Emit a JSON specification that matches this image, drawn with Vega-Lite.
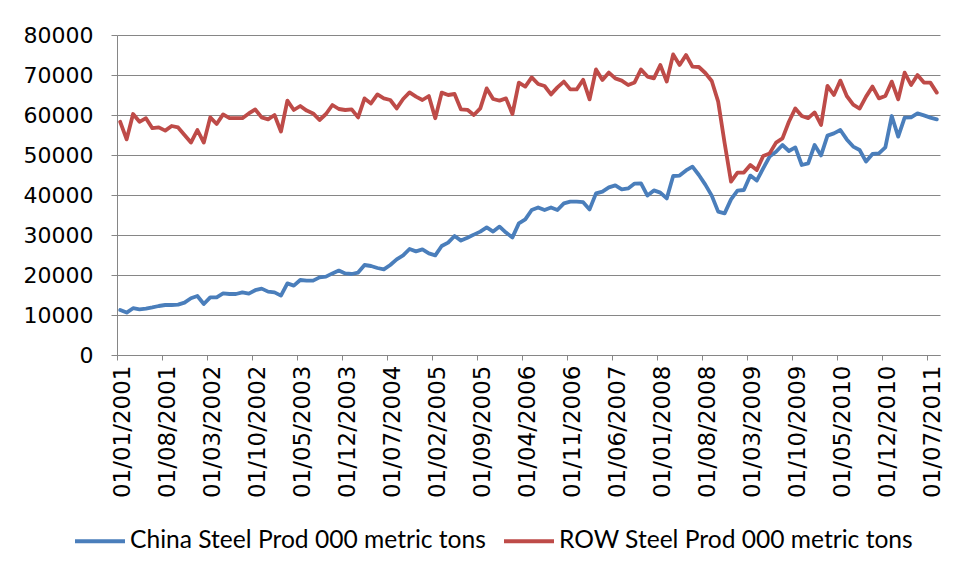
{
  "$schema": "https://vega.github.io/schema/vega-lite/v6.json",
  "width": 823,
  "height": 320,
  "autosize": {"type": "none"},
  "padding": {"left": 117, "top": 35, "right": 16, "bottom": 224},
  "background": "white",
  "config": {"view": {"stroke": null}},
  "data": {"values": [
    {"month":"2001-01","china":11250,"row":58300},
    {"month":"2001-02","china":10600,"row":53900},
    {"month":"2001-03","china":11700,"row":60250},
    {"month":"2001-04","china":11400,"row":58300},
    {"month":"2001-05","china":11600,"row":59200},
    {"month":"2001-06","china":11900,"row":56700},
    {"month":"2001-07","china":12250,"row":56900},
    {"month":"2001-08","china":12500,"row":56100},
    {"month":"2001-09","china":12500,"row":57250},
    {"month":"2001-10","china":12600,"row":56900},
    {"month":"2001-11","china":13100,"row":55000},
    {"month":"2001-12","china":14200,"row":53100},
    {"month":"2002-01","china":14750,"row":56250},
    {"month":"2002-02","china":12750,"row":53100},
    {"month":"2002-03","china":14400,"row":59400},
    {"month":"2002-04","china":14400,"row":57750},
    {"month":"2002-05","china":15400,"row":60150},
    {"month":"2002-06","china":15250,"row":59200},
    {"month":"2002-07","china":15250,"row":59200},
    {"month":"2002-08","china":15650,"row":59200},
    {"month":"2002-09","china":15350,"row":60400},
    {"month":"2002-10","china":16200,"row":61400},
    {"month":"2002-11","china":16600,"row":59400},
    {"month":"2002-12","china":15850,"row":58900},
    {"month":"2003-01","china":15650,"row":60000},
    {"month":"2003-02","china":14850,"row":55850},
    {"month":"2003-03","china":17900,"row":63600},
    {"month":"2003-04","china":17350,"row":61250},
    {"month":"2003-05","china":18750,"row":62250},
    {"month":"2003-06","china":18600,"row":61100},
    {"month":"2003-07","china":18600,"row":60400},
    {"month":"2003-08","china":19400,"row":58750},
    {"month":"2003-09","china":19600,"row":60250},
    {"month":"2003-10","china":20400,"row":62500},
    {"month":"2003-11","china":21100,"row":61500},
    {"month":"2003-12","china":20400,"row":61250},
    {"month":"2004-01","china":20250,"row":61400},
    {"month":"2004-02","china":20600,"row":59400},
    {"month":"2004-03","china":22500,"row":64150},
    {"month":"2004-04","china":22250,"row":62900},
    {"month":"2004-05","china":21750,"row":65150},
    {"month":"2004-06","china":21400,"row":64150},
    {"month":"2004-07","china":22500,"row":63750},
    {"month":"2004-08","china":23900,"row":61650},
    {"month":"2004-09","china":24900,"row":64000},
    {"month":"2004-10","china":26500,"row":65650},
    {"month":"2004-11","china":25900,"row":64600},
    {"month":"2004-12","china":26400,"row":63750},
    {"month":"2005-01","china":25400,"row":64750},
    {"month":"2005-02","china":24900,"row":59200},
    {"month":"2005-03","china":27250,"row":65600},
    {"month":"2005-04","china":28100,"row":65000},
    {"month":"2005-05","china":29750,"row":65250},
    {"month":"2005-06","china":28600,"row":61400},
    {"month":"2005-07","china":29300,"row":61300},
    {"month":"2005-08","china":30100,"row":60000},
    {"month":"2005-09","china":30850,"row":61650},
    {"month":"2005-10","china":31900,"row":66650},
    {"month":"2005-11","china":30850,"row":64000},
    {"month":"2005-12","china":32100,"row":63600},
    {"month":"2006-01","china":30600,"row":64150},
    {"month":"2006-02","china":29400,"row":60250},
    {"month":"2006-03","china":32900,"row":68100},
    {"month":"2006-04","china":33900,"row":67100},
    {"month":"2006-05","china":36250,"row":69400},
    {"month":"2006-06","china":36900,"row":67750},
    {"month":"2006-07","china":36250,"row":67250},
    {"month":"2006-08","china":36900,"row":65150},
    {"month":"2006-09","china":36250,"row":66900},
    {"month":"2006-10","china":37900,"row":68350},
    {"month":"2006-11","china":38350,"row":66400},
    {"month":"2006-12","china":38350,"row":66400},
    {"month":"2007-01","china":38200,"row":68800},
    {"month":"2007-02","china":36400,"row":63900},
    {"month":"2007-03","china":40400,"row":71400},
    {"month":"2007-04","china":40850,"row":68750},
    {"month":"2007-05","china":41900,"row":70600},
    {"month":"2007-06","china":42400,"row":69150},
    {"month":"2007-07","china":41400,"row":68600},
    {"month":"2007-08","china":41650,"row":67500},
    {"month":"2007-09","china":42850,"row":68150},
    {"month":"2007-10","china":42900,"row":71400},
    {"month":"2007-11","china":39850,"row":69600},
    {"month":"2007-12","china":41150,"row":69150},
    {"month":"2008-01","china":40600,"row":72500},
    {"month":"2008-02","china":39150,"row":68350},
    {"month":"2008-03","china":44750,"row":75150},
    {"month":"2008-04","china":44850,"row":72500},
    {"month":"2008-05","china":46150,"row":75000},
    {"month":"2008-06","china":47100,"row":72100},
    {"month":"2008-07","china":45000,"row":72000},
    {"month":"2008-08","china":42600,"row":70500},
    {"month":"2008-09","china":39850,"row":68500},
    {"month":"2008-10","china":35850,"row":63350},
    {"month":"2008-11","china":35400,"row":53000},
    {"month":"2008-12","china":38900,"row":43350},
    {"month":"2009-01","china":41100,"row":45600},
    {"month":"2009-02","china":41250,"row":45600},
    {"month":"2009-03","china":44850,"row":47500},
    {"month":"2009-04","china":43600,"row":46250},
    {"month":"2009-05","china":46650,"row":49750},
    {"month":"2009-06","china":49600,"row":50400},
    {"month":"2009-07","china":50800,"row":53100},
    {"month":"2009-08","china":52500,"row":54150},
    {"month":"2009-09","china":51000,"row":58300},
    {"month":"2009-10","china":51900,"row":61650},
    {"month":"2009-11","china":47500,"row":59750},
    {"month":"2009-12","china":47900,"row":59200},
    {"month":"2010-01","china":52500,"row":60650},
    {"month":"2010-02","china":49900,"row":57500},
    {"month":"2010-03","china":54850,"row":67300},
    {"month":"2010-04","china":55400,"row":65000},
    {"month":"2010-05","china":56250,"row":68600},
    {"month":"2010-06","china":53900,"row":64750},
    {"month":"2010-07","china":52100,"row":62600},
    {"month":"2010-08","china":51250,"row":61600},
    {"month":"2010-09","china":48350,"row":64600},
    {"month":"2010-10","china":50250,"row":67100},
    {"month":"2010-11","china":50400,"row":64150},
    {"month":"2010-12","china":51900,"row":64750},
    {"month":"2011-01","china":59750,"row":68350},
    {"month":"2011-02","china":54600,"row":63900},
    {"month":"2011-03","china":59350,"row":70600},
    {"month":"2011-04","china":59400,"row":67500},
    {"month":"2011-05","china":60400,"row":70000},
    {"month":"2011-06","china":59900,"row":68100},
    {"month":"2011-07","china":59350,"row":68100},
    {"month":"2011-08","china":58900,"row":65600}
  ]},
  "transform": [{"fold": ["china", "row"], "as": ["series", "value"]}],
  "mark": {"type": "line", "strokeWidth": 3.8, "strokeJoin": "round", "strokeCap": "round"},
  "encoding": {
    "x": {
      "field": "month",
      "type": "ordinal",
      "sort": "ascending",
      "bandPosition": 0.5,
      "scale": {"type": "band", "paddingInner": 0, "paddingOuter": 0},
      "axis": {
        "title": null,
        "values": ["2001-01","2001-08","2002-03","2002-10","2003-05","2003-12","2004-07","2005-02","2005-09","2006-04","2006-11","2007-06","2008-01","2008-08","2009-03","2009-10","2010-05","2010-12","2011-07"],
        "labelExpr": "'01/' + slice(datum.value, 5) + '/' + slice(datum.value, 0, 4)",
        "bandPosition": 0,
        "labelOffset": 3,
        "labelAngle": 270,
        "labelFont": "DejaVu Sans",
        "labelFontSize": 23,
        "labelColor": "#000000",
        "labelPadding": 5,
        "labelOverlap": false,
        "tickSize": 5,
        "tickColor": "#868686",
        "domainColor": "#868686",
        "grid": false
      }
    },
    "y": {
      "field": "value",
      "type": "quantitative",
      "scale": {"domain": [0, 80000], "nice": false},
      "axis": {
        "title": null,
        "values": [0, 10000, 20000, 30000, 40000, 50000, 60000, 70000, 80000],
        "format": "d",
        "labelFont": "DejaVu Sans",
        "labelFontSize": 22,
        "labelColor": "#000000",
        "labelPadding": 18,
        "tickSize": 6,
        "tickColor": "#868686",
        "domainColor": "#868686",
        "grid": true,
        "gridColor": "#868686",
        "gridWidth": 1
      }
    },
    "color": {
      "field": "series",
      "type": "nominal",
      "scale": {"domain": ["china", "row"], "range": ["#4A7EBB", "#BE4B48"]},
      "legend": {
        "orient": "none",
        "legendX": -44,
        "legendY": 479,
        "direction": "horizontal",
        "title": null,
        "symbolType": "stroke",
        "symbolSize": 2500,
        "symbolStrokeWidth": 4,
        "labelFont": "Lato",
        "labelFontSize": 24.6,
        "labelColor": "#000000",
        "labelOffset": 3,
        "columnPadding": 10,
        "labelLimit": 0,
        "labelExpr": "datum.value == 'china' ? 'China Steel Prod 000 metric tons' : 'ROW Steel Prod 000 metric tons'"
      }
    }
  }
}
